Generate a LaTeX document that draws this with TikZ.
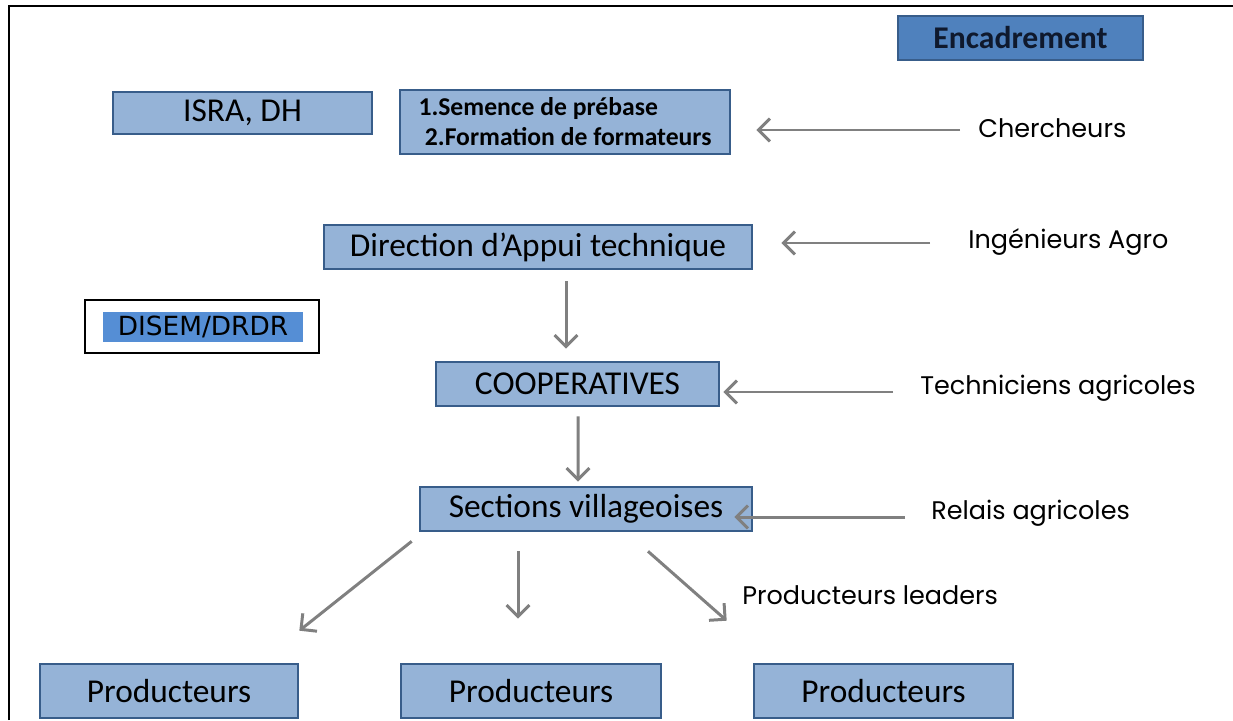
\documentclass[tikz,border=0pt]{standalone}
\usepackage{fontspec}
\setmainfont{Carlito}
\newfontfamily\lblfont{Poppins}
\newfontfamily\verd{DejaVu Sans}
\usetikzlibrary{arrows.meta,calc}
\definecolor{boxfill}{RGB}{149,179,215}
\definecolor{boxline}{RGB}{56,93,138}
\definecolor{encfill}{RGB}{79,129,189}
\definecolor{disfill}{RGB}{85,142,213}
\definecolor{arrgray}{RGB}{128,128,128}
\begin{document}
\begin{tikzpicture}[x=0.02cm,y=-0.02cm,
  bluebox/.style={draw=boxline,fill=boxfill,line width=1.5pt,inner sep=0pt,
    font=\fontsize{19}{22}\selectfont,text=black},
  lbl/.style={inner sep=0pt,anchor=west,font=\lblfont\fontsize{14.5}{17}\selectfont},
  arr/.style={draw=arrgray,line width=1.7pt,-{Straight Barb[length=6.5pt,width=13pt]}}]
\useasboundingbox (0,0) rectangle (1233,720);
% frame
\draw[line width=1.7pt] (9,720) -- (9,6) -- (1233,6);
% boxes
\node[bluebox,fill=encfill,minimum width=245*0.02cm,minimum height=44*0.02cm,
  font=\bfseries\fontsize{18}{21}\selectfont,text={rgb,255:red,15;green,25;blue,45}] (enc) at (1020.5,38) {Encadrement};
\node[bluebox,minimum width=259*0.02cm,minimum height=42*0.02cm] (isra) at (242.5,113) {ISRA, DH};
\node[bluebox,minimum width=330*0.02cm,minimum height=64*0.02cm,align=left,
  font=\bfseries\fontsize{14.6}{17}\selectfont] (sem) at (565,122) {1.Semence de prébase\\\hspace{0.25em}2.Formation de formateurs};
\node[bluebox,minimum width=428*0.02cm,minimum height=44*0.02cm] (dir) at (538,247) {Direction d’Appui technique};
\node[draw=black,line width=1.1pt,minimum width=234*0.02cm,minimum height=53*0.02cm,inner sep=0pt] (disout) at (202,326.5) {};
\node[fill=disfill,minimum width=200*0.02cm,minimum height=30*0.02cm,inner sep=0pt,
  font=\verd\fontsize{15}{18}\selectfont] (disem) at (203,327) {DISEM/DRDR};
\node[bluebox,minimum width=283*0.02cm,minimum height=44*0.02cm] (coop) at (577.5,384) {COOPERATIVES};
\node[bluebox,minimum width=332*0.02cm,minimum height=44*0.02cm] (sect) at (586,509) {Sections villageoises};
\node[bluebox,minimum width=258*0.02cm,minimum height=54*0.02cm] (p1) at (169,691) {Producteurs};
\node[bluebox,minimum width=260*0.02cm,minimum height=54*0.02cm] (p2) at (531,691) {Producteurs};
\node[bluebox,minimum width=259*0.02cm,minimum height=54*0.02cm] (p3) at (883.5,691) {Producteurs};
% labels
\node[lbl] (cher) at (978,128) {Chercheurs};
\node[lbl] (ing) at (968,242) {Ingénieurs Agro};
\node[lbl] (tech) at (920,388) {Techniciens agricoles};
\node[lbl] (rel) at (931,513) {Relais agricoles};
\node[lbl] (lead) at (742,595) {Producteurs leaders};
% arrows
\draw[arr] ($(cher.west)+(-18,2)$) -- ($(sem.east)+(25,8)$);
\draw[arr] ($(ing.west)+(-38,1)$) -- ($(dir.east)+(28,-4)$);
\draw[arr] ($(tech.west)+(-27,4)$) -- ($(coop.east)+(3,8)$);
\draw[arr] ($(rel.west)+(-26,4)$) -- ($(sect.east)+(-19,8)$);
\draw[arr] ($(dir.south)+(28,11)$) -- ($(coop.north)+(-11.5,-12)$);
\draw[arr] ($(coop.south)+(0.5,9)$) -- ($(sect.north)+(-8,-4)$);
\draw[arr] ($(sect.south west)+(-7,9)$) -- ($(p1.north east)+(0,-32)$);
\draw[arr] ($(sect.south)+(-68,19)$) -- ($(p2.north)+(-13,-44)$);
\draw[arr] ($(sect.south)+(62,19)$) -- ($(p3.north west)+(-26,-42)$);
\end{tikzpicture}
\end{document}
